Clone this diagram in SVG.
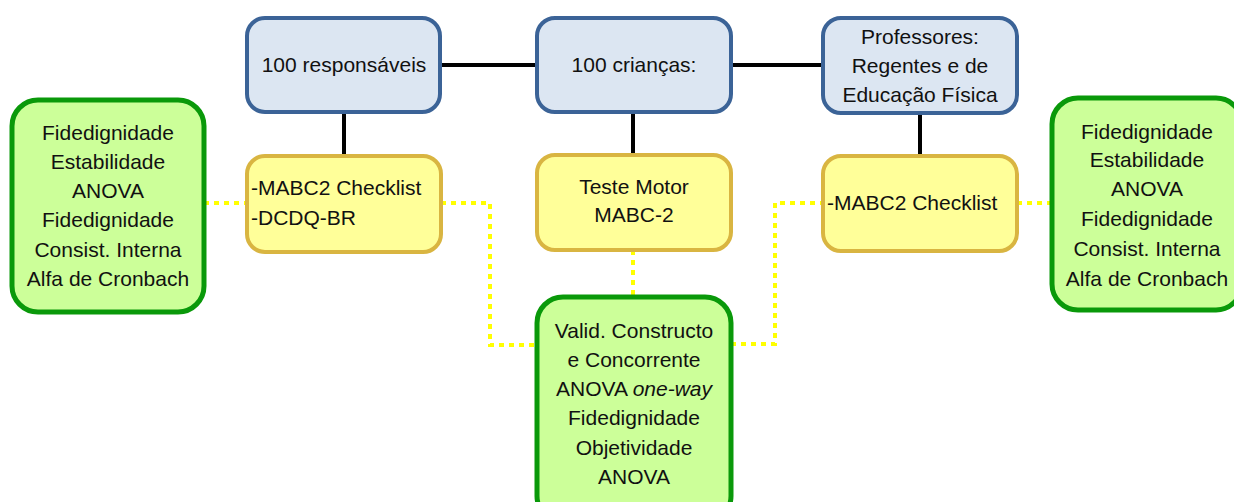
<svg xmlns="http://www.w3.org/2000/svg" width="1234" height="502" viewBox="0 0 1234 502">
<style>
.blue{fill:#DCE6F2;stroke:#3B6397;stroke-width:4}
.yel{fill:#FFFF99;stroke:#D9B541;stroke-width:4}
.grn{fill:#CCFF99;stroke:#0A990A;stroke-width:5}
.solid{stroke:#000;stroke-width:4;fill:none}
.dot{stroke:#FFFF00;stroke-width:4;stroke-dasharray:5 5;fill:none}
text{font-family:"Liberation Sans",Arial,sans-serif;font-size:21px;fill:#111}
.c{text-anchor:middle}
</style>
<rect width="1234" height="502" fill="#fff"/>
<g id="connectors">
<line class="solid" x1="440" y1="65" x2="823" y2="65"/>
<line class="solid" x1="344" y1="112" x2="344" y2="156"/>
<line class="solid" x1="633" y1="112" x2="633" y2="155"/>
<line class="solid" x1="920" y1="113" x2="920" y2="156"/>
<line class="dot" x1="204" y1="203" x2="247" y2="203"/>
<polyline class="dot" points="441,203 490,203 490,345 537,345"/>
<line class="dot" x1="633" y1="250" x2="633" y2="297"/>
<polyline class="dot" points="731,344 775,344 775,203 823,203"/>
<line class="dot" x1="1017" y1="203" x2="1052" y2="203"/>
</g>
<g id="n-responsaveis">
<rect class="blue" x="247" y="18" width="193" height="94" rx="18"/>
<text class="c" x="344" y="72">100 responsáveis</text>
</g>
<g id="n-criancas">
<rect class="blue" x="537" y="18" width="194" height="94" rx="18"/>
<text class="c" x="634" y="72">100 crianças:</text>
</g>
<g id="n-professores">
<rect class="blue" x="823" y="18" width="194" height="95" rx="18"/>
<text class="c" x="920" y="44">Professores:</text>
<text class="c" x="920" y="73">Regentes e de</text>
<text class="c" x="920" y="102">Educação Física</text>
</g>
<g id="n-checklist1">
<rect class="yel" x="247" y="156" width="194" height="96" rx="18"/>
<text x="251" y="195">-MABC2 Checklist</text>
<text x="251" y="225">-DCDQ-BR</text>
</g>
<g id="n-teste">
<rect class="yel" x="537" y="155" width="194" height="95" rx="18"/>
<text class="c" x="634" y="194">Teste Motor</text>
<text class="c" x="634" y="222">MABC-2</text>
</g>
<g id="n-checklist2">
<rect class="yel" x="823" y="156" width="194" height="95" rx="18"/>
<text x="827" y="210">-MABC2 Checklist</text>
</g>
<g id="n-left">
<rect class="grn" x="12" y="100" width="192" height="212" rx="26"/>
<text class="c" x="108" y="140">Fidedignidade</text>
<text class="c" x="108" y="169">Estabilidade</text>
<text class="c" x="108" y="198">ANOVA</text>
<text class="c" x="108" y="227">Fidedignidade</text>
<text class="c" x="108" y="257">Consist. Interna</text>
<text class="c" x="108" y="286">Alfa de Cronbach</text>
</g>
<g id="n-center">
<rect class="grn" x="537" y="297" width="194" height="225" rx="26"/>
<text class="c" x="634" y="338">Valid. Constructo</text>
<text class="c" x="634" y="367">e Concorrente</text>
<text class="c" x="634" y="396">ANOVA <tspan font-style="italic">one-way</tspan></text>
<text class="c" x="634" y="425">Fidedignidade</text>
<text class="c" x="634" y="455">Objetividade</text>
<text class="c" x="634" y="484">ANOVA</text>
</g>
<g id="n-right">
<rect class="grn" x="1052" y="98" width="190" height="212" rx="26"/>
<text class="c" x="1147" y="139">Fidedignidade</text>
<text class="c" x="1147" y="167">Estabilidade</text>
<text class="c" x="1147" y="196">ANOVA</text>
<text class="c" x="1147" y="226">Fidedignidade</text>
<text class="c" x="1147" y="256">Consist. Interna</text>
<text class="c" x="1147" y="286">Alfa de Cronbach</text>
</g>
</svg>
